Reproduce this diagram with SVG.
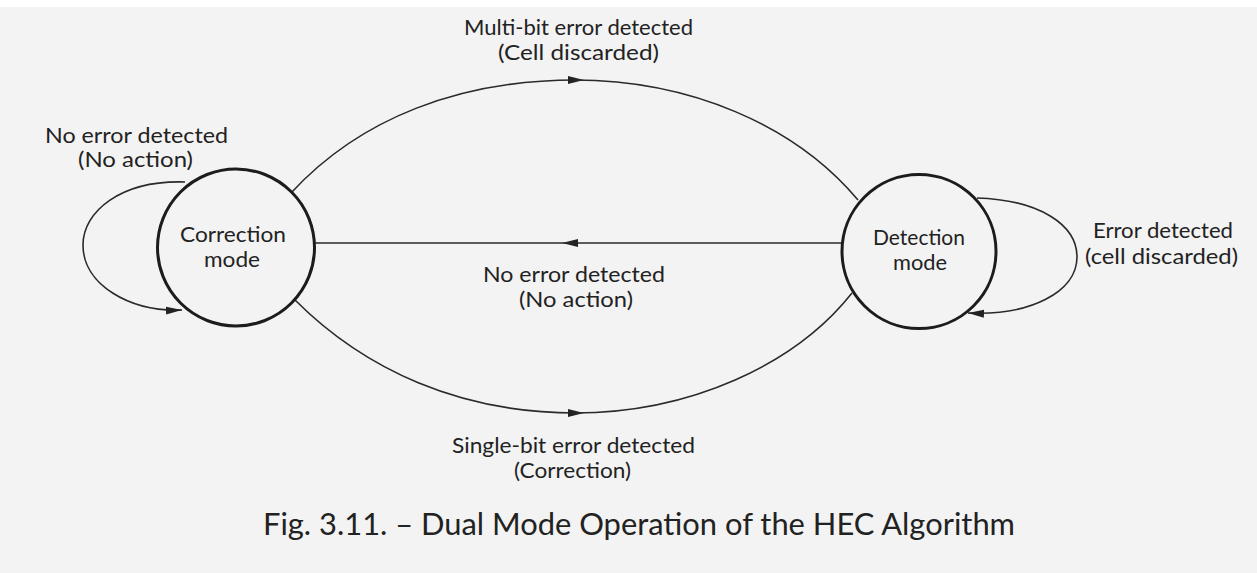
<svg xmlns="http://www.w3.org/2000/svg" width="1257" height="573" viewBox="0 0 1257 573">
<style>
.t{font-family:Lato,"Liberation Sans",sans-serif;font-size:21px;fill:#222;text-anchor:middle}
.cap{font-family:Lato,"Liberation Sans",sans-serif;font-size:30px;fill:#222;text-anchor:middle}
.node{fill:none;stroke:#1c1c1c;stroke-width:3}
.edge{fill:none;stroke:#2a2a2a;stroke-width:1.6}
</style>
<defs>
<marker id="ah" viewBox="0 0 16 10" refX="8" refY="5" markerWidth="16" markerHeight="10" markerUnits="userSpaceOnUse" orient="auto">
<path d="M0,1 L16,5 L0,9 Z" fill="#222"/>
</marker>
<marker id="ae" viewBox="0 0 16 10" refX="16" refY="5" markerWidth="16" markerHeight="10" markerUnits="userSpaceOnUse" orient="auto">
<path d="M0,1 L16,5 L0,9 Z" fill="#222"/>
</marker>
</defs>
<rect width="1257" height="573" fill="#f3f3f3"/>
<rect width="1257" height="7" fill="#ffffff"/>
<g id="connectors">
<path class="edge" d="M291,193 C360,118 460,80 576,80" marker-end="url(#ah)"/>
<path class="edge" d="M574,80 C690,80 795,125 858,200"/>
<path class="edge" d="M843,243 L570,243" marker-end="url(#ah)"/>
<path class="edge" d="M572,243 L315,243"/>
<path class="edge" d="M295,300 C365,370 460,413 576,413" marker-end="url(#ah)"/>
<path class="edge" d="M574,413 C690,413 795,365 852,293"/>
<path class="edge" d="M185,182 C120,180 83,212 83,245 C83,285 130,312 182,310" marker-end="url(#ae)"/>
<path class="edge" d="M977,198 C1040,200 1077,225 1077,257 C1077,292 1030,316 968,313" marker-end="url(#ae)"/>
</g>
<g id="correction">
<circle class="node" cx="236" cy="247.5" r="78.5"/>
<text class="t" x="233" y="242" textLength="106" lengthAdjust="spacingAndGlyphs">Correction</text>
<text class="t" x="232" y="267" textLength="56" lengthAdjust="spacingAndGlyphs">mode</text>
</g>
<g id="detection">
<circle class="node" cx="919" cy="251.5" r="77"/>
<text class="t" x="919" y="245" textLength="92" lengthAdjust="spacingAndGlyphs">Detection</text>
<text class="t" x="920" y="270" textLength="54" lengthAdjust="spacingAndGlyphs">mode</text>
</g>
<g id="labels">
<text class="t" x="578.5" y="35" textLength="229" lengthAdjust="spacingAndGlyphs">Multi-bit error detected</text>
<text class="t" x="578.5" y="60" textLength="161" lengthAdjust="spacingAndGlyphs">(Cell discarded)</text>
<text class="t" x="136.5" y="143" textLength="183" lengthAdjust="spacingAndGlyphs">No error detected</text>
<text class="t" x="135.5" y="167" textLength="115" lengthAdjust="spacingAndGlyphs">(No action)</text>
<text class="t" x="574" y="282" textLength="182" lengthAdjust="spacingAndGlyphs">No error detected</text>
<text class="t" x="576" y="307" textLength="114" lengthAdjust="spacingAndGlyphs">(No action)</text>
<text class="t" x="1163" y="238" textLength="140" lengthAdjust="spacingAndGlyphs">Error detected</text>
<text class="t" x="1161.5" y="264" textLength="153" lengthAdjust="spacingAndGlyphs">(cell discarded)</text>
<text class="t" x="573.5" y="453" textLength="243" lengthAdjust="spacingAndGlyphs">Single-bit error detected</text>
<text class="t" x="572.5" y="478" textLength="117" lengthAdjust="spacingAndGlyphs">(Correction)</text>
<text class="cap" x="639" y="535" textLength="752" lengthAdjust="spacingAndGlyphs">Fig. 3.11. – Dual Mode Operation of the HEC Algorithm</text>
</g>
</svg>
